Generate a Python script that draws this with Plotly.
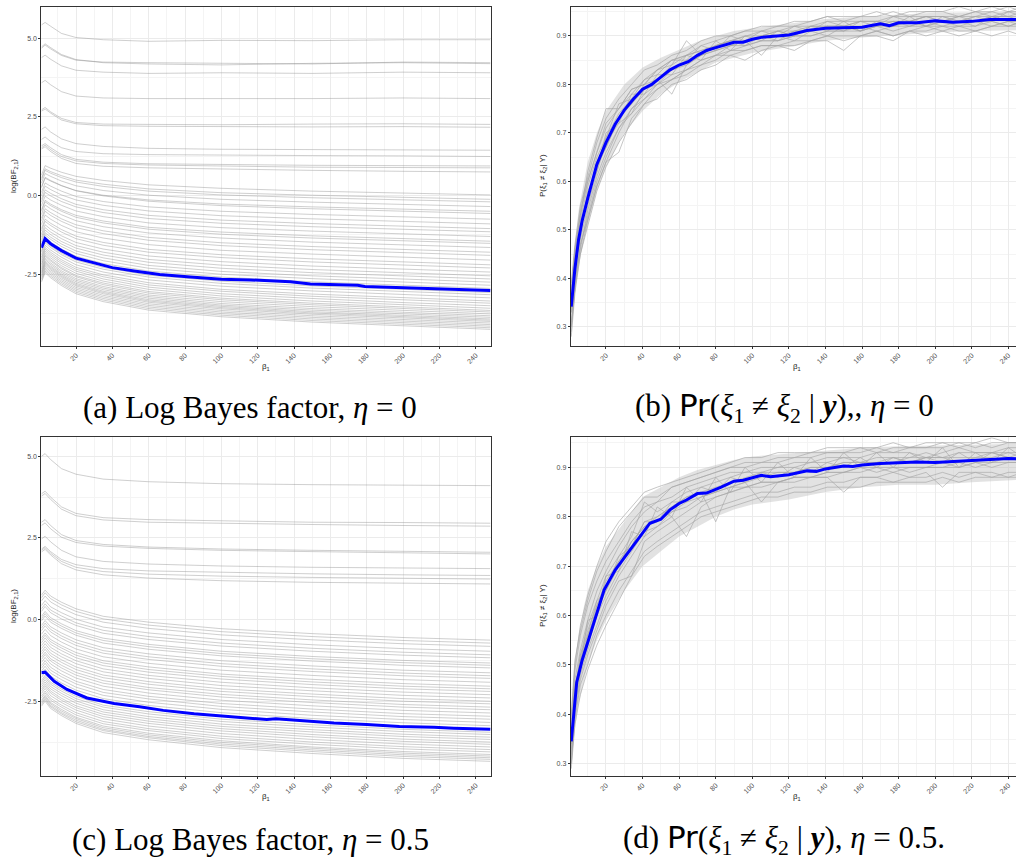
import plotly.graph_objects as go

# ---------------- data ----------------
# Panel (a): log Bayes factor, eta = 0
XA = [1, 3, 6, 12, 20, 35, 60, 100, 150, 200, 248]
A_UPPER = [
    [5.42, 5.50, 5.38, 5.15, 5.02, 4.95, 4.90, 4.93, 4.92, 4.95, 4.95],
    [4.72, 4.82, 4.70, 4.48, 4.32, 4.22, 4.18, 4.15, 4.20, 4.22, 4.19],
    [4.68, 4.78, 4.66, 4.45, 4.30, 4.24, 4.22, 4.20, 4.18, 4.24, 4.22],
    [4.38, 4.46, 4.33, 4.12, 3.98, 3.92, 3.88, 3.90, 3.88, 3.92, 3.90],
    [3.58, 3.66, 3.52, 3.30, 3.16, 3.10, 3.08, 3.07, 3.08, 3.10, 3.08],
    [2.72, 2.80, 2.66, 2.45, 2.32, 2.27, 2.26, 2.25, 2.27, 2.28, 2.26],
    [2.68, 2.75, 2.62, 2.40, 2.28, 2.22, 2.20, 2.19, 2.18, 2.19, 2.17],
    [2.10, 2.18, 2.02, 1.80, 1.65, 1.56, 1.50, 1.47, 1.46, 1.45, 1.44],
    [1.78, 1.86, 1.72, 1.52, 1.40, 1.33, 1.30, 1.28, 1.27, 1.26, 1.24],
    [1.58, 1.65, 1.52, 1.30, 1.15, 1.06, 1.01, 0.98, 0.96, 0.95, 0.94],
    [1.52, 1.60, 1.46, 1.24, 1.10, 1.02, 0.97, 0.93, 0.90, 0.89, 0.88],
    [1.48, 1.55, 1.40, 1.18, 1.02, 0.93, 0.88, 0.84, 0.80, 0.77, 0.75],
]
A_BUNDLE = [
    [0.65, 0.95, 0.87, 0.74, 0.61, 0.48, 0.34, 0.23, 0.14, 0.08, 0.02],
    [0.55, 0.85, 0.76, 0.63, 0.49, 0.36, 0.21, 0.09, 0.01, -0.06, -0.12],
    [0.50, 0.80, 0.71, 0.57, 0.43, 0.29, 0.14, 0.02, -0.07, -0.14, -0.20],
    [0.40, 0.70, 0.61, 0.46, 0.31, 0.16, 0.01, -0.12, -0.21, -0.29, -0.35],
    [0.25, 0.55, 0.46, 0.31, 0.16, 0.01, -0.14, -0.27, -0.36, -0.44, -0.50],
    [0.28, 0.58, 0.48, 0.32, 0.15, -0.01, -0.18, -0.32, -0.42, -0.50, -0.57],
    [0.10, 0.40, 0.30, 0.14, -0.03, -0.19, -0.36, -0.50, -0.60, -0.68, -0.75],
    [0.00, 0.30, 0.19, 0.02, -0.14, -0.31, -0.49, -0.64, -0.74, -0.83, -0.90],
    [-0.12, 0.18, 0.07, -0.10, -0.28, -0.45, -0.63, -0.78, -0.89, -0.98, -1.05],
    [-0.20, 0.10, -0.01, -0.19, -0.36, -0.54, -0.73, -0.88, -0.99, -1.08, -1.15],
    [-0.32, -0.02, -0.14, -0.31, -0.49, -0.67, -0.87, -1.02, -1.13, -1.22, -1.30],
    [-0.45, -0.15, -0.27, -0.45, -0.63, -0.81, -1.01, -1.16, -1.28, -1.37, -1.45],
    [-0.50, -0.20, -0.32, -0.50, -0.69, -0.87, -1.07, -1.23, -1.35, -1.44, -1.52],
    [-0.60, -0.30, -0.42, -0.61, -0.80, -0.99, -1.19, -1.35, -1.48, -1.57, -1.65],
    [-0.72, -0.42, -0.54, -0.74, -0.93, -1.12, -1.33, -1.50, -1.62, -1.72, -1.80],
    [-0.80, -0.50, -0.63, -0.82, -1.02, -1.21, -1.42, -1.59, -1.72, -1.82, -1.90],
    [-0.92, -0.62, -0.75, -0.95, -1.15, -1.35, -1.56, -1.74, -1.86, -1.96, -2.05],
    [-1.05, -0.75, -0.88, -1.08, -1.29, -1.49, -1.71, -1.88, -2.01, -2.11, -2.20],
    [-1.12, -0.82, -0.95, -1.16, -1.37, -1.58, -1.80, -1.97, -2.11, -2.21, -2.30],
    [-1.23, -0.93, -1.07, -1.28, -1.49, -1.70, -1.92, -2.10, -2.24, -2.34, -2.43],
    [-1.32, -1.02, -1.16, -1.37, -1.59, -1.80, -2.03, -2.21, -2.35, -2.46, -2.55],
    [-1.40, -1.10, -1.24, -1.46, -1.67, -1.89, -2.12, -2.31, -2.45, -2.56, -2.65],
    [-1.48, -1.18, -1.32, -1.54, -1.76, -1.98, -2.22, -2.41, -2.55, -2.66, -2.75],
    [-1.55, -1.25, -1.39, -1.62, -1.84, -2.07, -2.31, -2.50, -2.64, -2.75, -2.85],
    [-1.63, -1.33, -1.48, -1.70, -1.93, -2.16, -2.40, -2.59, -2.74, -2.85, -2.95],
    [-1.75, -1.45, -1.60, -1.83, -2.05, -2.28, -2.53, -2.72, -2.87, -2.98, -3.08],
    [-1.80, -1.50, -1.65, -1.88, -2.11, -2.34, -2.59, -2.79, -2.94, -3.05, -3.15],
    [-1.88, -1.58, -1.73, -1.96, -2.20, -2.43, -2.68, -2.88, -3.03, -3.15, -3.25],
    [-1.95, -1.65, -1.80, -2.04, -2.28, -2.52, -2.77, -2.98, -3.13, -3.25, -3.35],
    [-2.00, -1.70, -1.86, -2.10, -2.34, -2.58, -2.84, -3.04, -3.20, -3.32, -3.42],
    [-2.06, -1.76, -1.92, -2.16, -2.40, -2.65, -2.91, -3.12, -3.27, -3.40, -3.50],
    [-2.12, -1.82, -1.98, -2.23, -2.47, -2.72, -2.98, -3.19, -3.35, -3.47, -3.58],
    [-2.18, -1.88, -2.04, -2.29, -2.54, -2.78, -3.05, -3.26, -3.42, -3.54, -3.65],
    [-2.22, -1.92, -2.08, -2.33, -2.58, -2.83, -3.10, -3.31, -3.47, -3.59, -3.70],
    [-2.28, -1.98, -2.14, -2.39, -2.64, -2.89, -3.16, -3.37, -3.53, -3.65, -3.76],
    [-2.33, -2.03, -2.19, -2.44, -2.69, -2.94, -3.21, -3.43, -3.59, -3.71, -3.82],
    [-2.38, -2.08, -2.24, -2.49, -2.74, -2.99, -3.26, -3.48, -3.64, -3.76, -3.87],
    [-2.42, -2.12, -2.28, -2.53, -2.79, -3.04, -3.31, -3.52, -3.69, -3.81, -3.92],
    [-2.46, -2.16, -2.32, -2.57, -2.83, -3.08, -3.35, -3.56, -3.73, -3.85, -3.96],
    [-2.50, -2.20, -2.36, -2.61, -2.87, -3.12, -3.39, -3.60, -3.77, -3.89, -4.00],
    [-2.55, -2.25, -2.41, -2.66, -2.92, -3.17, -3.44, -3.65, -3.82, -3.94, -4.05],
    [-2.60, -2.30, -2.46, -2.71, -2.97, -3.22, -3.49, -3.70, -3.87, -3.99, -4.10],
    [-2.65, -2.35, -2.51, -2.76, -3.02, -3.27, -3.54, -3.75, -3.92, -4.04, -4.15],
    [-2.70, -2.40, -2.56, -2.81, -3.07, -3.32, -3.59, -3.80, -3.97, -4.09, -4.20],
    [-2.75, -2.45, -2.61, -2.86, -3.12, -3.37, -3.64, -3.85, -4.02, -4.14, -4.25],
]
A_BLUE_X = [1, 3, 6, 12, 20, 33, 40, 52, 66, 83, 100, 116, 127, 138, 149, 162, 175, 179, 198, 217, 230, 248]
A_BLUE_Y = [-1.66, -1.37, -1.53, -1.75, -1.99, -2.20, -2.29, -2.40, -2.51, -2.59, -2.66, -2.68,
            -2.70, -2.74, -2.81, -2.83, -2.85, -2.89, -2.92, -2.95, -2.99, -3.02]

# Panel (c): log Bayes factor, eta = 0.5
C_UPPER = [
    [5.00, 5.08, 4.90, 4.62, 4.45, 4.30, 4.22, 4.16, 4.13, 4.12, 4.10],
    [3.85, 3.93, 3.75, 3.45, 3.25, 3.12, 3.06, 3.02, 2.98, 2.97, 2.95],
    [3.78, 3.86, 3.68, 3.38, 3.18, 3.05, 2.98, 2.94, 2.91, 2.88, 2.86],
    [2.98, 3.06, 2.88, 2.60, 2.42, 2.30, 2.22, 2.16, 2.12, 2.08, 2.06],
    [2.88, 2.96, 2.78, 2.52, 2.36, 2.25, 2.18, 2.12, 2.08, 2.04, 2.01],
    [2.47, 2.55, 2.38, 2.12, 1.92, 1.78, 1.70, 1.64, 1.60, 1.58, 1.56],
    [2.16, 2.24, 2.08, 1.84, 1.68, 1.56, 1.49, 1.44, 1.40, 1.37, 1.35],
    [2.12, 2.20, 2.03, 1.78, 1.60, 1.47, 1.39, 1.33, 1.29, 1.26, 1.24],
    [2.07, 2.15, 1.98, 1.71, 1.52, 1.37, 1.27, 1.19, 1.14, 1.11, 1.09],
]
C_BUNDLE = [
    [0.75, 0.90, 0.72, 0.53, 0.33, 0.10, -0.08, -0.28, -0.43, -0.55, -0.63],
    [0.67, 0.82, 0.64, 0.45, 0.25, 0.02, -0.17, -0.37, -0.52, -0.64, -0.72],
    [0.57, 0.72, 0.54, 0.35, 0.15, -0.08, -0.27, -0.47, -0.62, -0.74, -0.82],
    [0.43, 0.58, 0.39, 0.21, 0.01, -0.23, -0.41, -0.61, -0.77, -0.89, -0.97],
    [0.33, 0.48, 0.29, 0.11, -0.10, -0.33, -0.52, -0.72, -0.88, -1.00, -1.08],
    [0.25, 0.40, 0.21, 0.02, -0.18, -0.42, -0.61, -0.81, -0.97, -1.09, -1.17],
    [0.10, 0.25, 0.06, -0.13, -0.34, -0.57, -0.76, -0.97, -1.13, -1.25, -1.33],
    [0.03, 0.18, -0.01, -0.20, -0.41, -0.64, -0.83, -1.04, -1.20, -1.32, -1.40],
    [-0.04, 0.11, -0.08, -0.27, -0.48, -0.72, -0.91, -1.11, -1.27, -1.40, -1.48],
    [-0.18, -0.03, -0.22, -0.41, -0.62, -0.86, -1.05, -1.26, -1.42, -1.55, -1.63],
    [-0.26, -0.11, -0.30, -0.50, -0.71, -0.95, -1.14, -1.35, -1.51, -1.64, -1.72],
    [-0.34, -0.19, -0.38, -0.58, -0.79, -1.03, -1.22, -1.43, -1.59, -1.72, -1.80],
    [-0.45, -0.30, -0.49, -0.69, -0.90, -1.14, -1.34, -1.55, -1.71, -1.84, -1.92],
    [-0.56, -0.41, -0.61, -0.80, -1.01, -1.26, -1.45, -1.67, -1.83, -1.96, -2.04],
    [-0.63, -0.48, -0.68, -0.87, -1.09, -1.33, -1.53, -1.74, -1.91, -2.04, -2.12],
    [-0.71, -0.56, -0.76, -0.95, -1.17, -1.41, -1.61, -1.82, -1.99, -2.12, -2.20],
    [-0.80, -0.65, -0.85, -1.05, -1.26, -1.51, -1.71, -1.92, -2.09, -2.22, -2.30],
    [-0.89, -0.74, -0.94, -1.14, -1.35, -1.60, -1.80, -2.02, -2.18, -2.32, -2.40],
    [-0.98, -0.83, -1.03, -1.23, -1.45, -1.70, -1.90, -2.12, -2.28, -2.42, -2.50],
    [-1.06, -0.91, -1.11, -1.31, -1.53, -1.78, -1.98, -2.20, -2.36, -2.50, -2.58],
    [-1.15, -1.00, -1.20, -1.40, -1.62, -1.87, -2.08, -2.29, -2.46, -2.60, -2.68],
    [-1.22, -1.07, -1.27, -1.48, -1.70, -1.95, -2.15, -2.37, -2.54, -2.68, -2.76],
    [-1.31, -1.16, -1.36, -1.57, -1.79, -2.04, -2.25, -2.47, -2.64, -2.78, -2.86],
    [-1.41, -1.26, -1.46, -1.67, -1.89, -2.14, -2.35, -2.57, -2.74, -2.88, -2.96],
    [-1.49, -1.34, -1.55, -1.75, -1.97, -2.23, -2.43, -2.66, -2.83, -2.97, -3.05],
    [-1.58, -1.43, -1.64, -1.84, -2.07, -2.32, -2.53, -2.75, -2.93, -3.06, -3.15],
    [-1.67, -1.52, -1.73, -1.94, -2.16, -2.42, -2.63, -2.85, -3.03, -3.16, -3.25],
    [-1.77, -1.62, -1.83, -2.04, -2.26, -2.52, -2.73, -2.95, -3.13, -3.26, -3.35],
    [-1.86, -1.71, -1.92, -2.13, -2.35, -2.62, -2.82, -3.05, -3.22, -3.36, -3.45],
    [-1.92, -1.77, -1.98, -2.19, -2.42, -2.68, -2.89, -3.12, -3.29, -3.43, -3.52],
    [-1.99, -1.84, -2.05, -2.26, -2.49, -2.76, -2.97, -3.20, -3.37, -3.51, -3.60],
    [-2.06, -1.91, -2.12, -2.33, -2.56, -2.83, -3.04, -3.27, -3.44, -3.58, -3.67],
    [-2.13, -1.98, -2.19, -2.41, -2.64, -2.90, -3.11, -3.34, -3.52, -3.66, -3.75],
    [-2.19, -2.04, -2.25, -2.47, -2.70, -2.97, -3.18, -3.41, -3.59, -3.73, -3.82],
    [-2.26, -2.11, -2.33, -2.54, -2.77, -3.04, -3.26, -3.49, -3.67, -3.81, -3.90],
    [-2.34, -2.19, -2.41, -2.62, -2.85, -3.12, -3.34, -3.57, -3.75, -3.89, -3.98],
    [-2.40, -2.25, -2.47, -2.68, -2.92, -3.19, -3.40, -3.64, -3.82, -3.96, -4.05],
    [-2.47, -2.32, -2.54, -2.75, -2.99, -3.26, -3.48, -3.71, -3.90, -4.04, -4.13],
    [-2.51, -2.36, -2.58, -2.80, -3.03, -3.31, -3.53, -3.76, -3.94, -4.09, -4.18],
    [-2.56, -2.41, -2.63, -2.85, -3.08, -3.36, -3.58, -3.81, -3.99, -4.14, -4.23],
    [-2.60, -2.45, -2.67, -2.89, -3.13, -3.40, -3.62, -3.86, -4.04, -4.19, -4.28],
    [-2.65, -2.50, -2.72, -2.94, -3.18, -3.46, -3.68, -3.92, -4.10, -4.25, -4.34],
]
C_BLUE_X = [1, 3, 8, 15, 26, 41, 55, 68, 85, 99, 118, 125, 130, 143, 162, 180, 198, 217, 228, 248]
C_BLUE_Y = [-1.63, -1.61, -1.89, -2.14, -2.40, -2.57, -2.67, -2.78, -2.88, -2.94, -3.02, -3.06,
            -3.04, -3.09, -3.17, -3.21, -3.27, -3.30, -3.33, -3.36]

# Panels (b) and (d): posterior probability
XP = [1, 3, 6, 10, 15, 20, 27, 34, 41, 48, 56, 64, 72, 80, 88, 96, 105, 114, 123, 132, 141,
      150, 159, 168, 177, 186, 195, 204, 213, 222, 231, 240, 248]
XE = [1, 3, 5, 8, 10, 15, 20, 30, 40, 50, 60, 70, 80, 90, 100, 120, 140, 160, 180, 200, 220, 248]

B_LO = [0.30, 0.37, 0.43, 0.48, 0.51, 0.58, 0.63, 0.70, 0.745, 0.78, 0.805, 0.825, 0.845, 0.855,
        0.865, 0.877, 0.89, 0.897, 0.902, 0.907, 0.91, 0.912]
B_HI = [0.38, 0.47, 0.54, 0.60, 0.64, 0.70, 0.745, 0.80, 0.835, 0.855, 0.872, 0.888, 0.90,
        0.91, 0.916, 0.926, 0.935, 0.94, 0.944, 0.948, 0.949, 0.952]
B_LINES = [
    [0.36, 0.45, 0.53, 0.60, 0.66, 0.71, 0.75, 0.79, 0.80, 0.83, 0.85, 0.86, 0.88, 0.89, 0.90, 0.91, 0.91, 0.92, 0.92, 0.93, 0.94, 0.93, 0.94, 0.94, 0.95, 0.94, 0.95, 0.95, 0.94, 0.95, 0.95, 0.96, 0.95],
    [0.31, 0.39, 0.47, 0.53, 0.60, 0.65, 0.71, 0.74, 0.77, 0.79, 0.81, 0.82, 0.84, 0.86, 0.86, 0.87, 0.88, 0.88, 0.89, 0.89, 0.90, 0.90, 0.90, 0.91, 0.90, 0.91, 0.91, 0.92, 0.91, 0.91, 0.92, 0.92, 0.92],
    [0.34, 0.44, 0.49, 0.58, 0.62, 0.70, 0.72, 0.78, 0.78, 0.82, 0.82, 0.86, 0.85, 0.89, 0.87, 0.90, 0.89, 0.91, 0.90, 0.92, 0.91, 0.93, 0.91, 0.93, 0.92, 0.94, 0.92, 0.94, 0.93, 0.94, 0.93, 0.95, 0.94],
    [0.28, 0.37, 0.45, 0.51, 0.58, 0.63, 0.68, 0.72, 0.76, 0.77, 0.80, 0.81, 0.83, 0.84, 0.86, 0.85, 0.87, 0.88, 0.87, 0.89, 0.90, 0.89, 0.90, 0.91, 0.90, 0.91, 0.92, 0.91, 0.92, 0.91, 0.92, 0.93, 0.92],
    [0.39, 0.47, 0.55, 0.61, 0.68, 0.73, 0.77, 0.80, 0.83, 0.84, 0.86, 0.87, 0.89, 0.90, 0.90, 0.91, 0.92, 0.92, 0.93, 0.93, 0.94, 0.94, 0.94, 0.95, 0.94, 0.95, 0.95, 0.95, 0.96, 0.95, 0.96, 0.95, 0.96],
    [0.33, 0.41, 0.50, 0.56, 0.64, 0.67, 0.73, 0.76, 0.80, 0.81, 0.78, 0.84, 0.86, 0.88, 0.89, 0.88, 0.90, 0.89, 0.91, 0.91, 0.92, 0.92, 0.91, 0.92, 0.93, 0.93, 0.92, 0.93, 0.93, 0.92, 0.94, 0.93, 0.93],
    [0.35, 0.42, 0.51, 0.57, 0.63, 0.69, 0.74, 0.77, 0.79, 0.81, 0.84, 0.89, 0.86, 0.88, 0.89, 0.89, 0.90, 0.91, 0.90, 0.92, 0.92, 0.91, 0.93, 0.93, 0.92, 0.93, 0.94, 0.93, 0.94, 0.93, 0.94, 0.94, 0.93],
    [0.30, 0.40, 0.46, 0.54, 0.61, 0.66, 0.71, 0.75, 0.78, 0.80, 0.83, 0.84, 0.86, 0.87, 0.88, 0.89, 0.86, 0.90, 0.89, 0.91, 0.90, 0.92, 0.91, 0.92, 0.92, 0.92, 0.93, 0.92, 0.93, 0.93, 0.92, 0.93, 0.93],
    [0.38, 0.46, 0.54, 0.60, 0.66, 0.72, 0.75, 0.78, 0.81, 0.83, 0.85, 0.86, 0.87, 0.88, 0.89, 0.90, 0.91, 0.91, 0.92, 0.92, 0.93, 0.93, 0.93, 0.93, 0.94, 0.94, 0.94, 0.94, 0.94, 0.95, 0.94, 0.95, 0.95],
    [0.33, 0.43, 0.48, 0.55, 0.62, 0.68, 0.72, 0.74, 0.79, 0.80, 0.82, 0.83, 0.85, 0.86, 0.88, 0.88, 0.89, 0.89, 0.90, 0.90, 0.91, 0.91, 0.92, 0.91, 0.92, 0.93, 0.92, 0.93, 0.92, 0.93, 0.93, 0.92, 0.93],
    [0.29, 0.38, 0.47, 0.52, 0.59, 0.64, 0.70, 0.75, 0.77, 0.80, 0.81, 0.83, 0.84, 0.85, 0.87, 0.87, 0.88, 0.88, 0.88, 0.89, 0.89, 0.87, 0.90, 0.90, 0.89, 0.91, 0.90, 0.91, 0.90, 0.91, 0.90, 0.91, 0.90],
    [0.35, 0.44, 0.52, 0.59, 0.65, 0.69, 0.76, 0.77, 0.81, 0.82, 0.85, 0.85, 0.88, 0.87, 0.90, 0.89, 0.91, 0.90, 0.92, 0.91, 0.93, 0.92, 0.93, 0.92, 0.94, 0.93, 0.94, 0.93, 0.94, 0.94, 0.95, 0.94, 0.95],
    [0.34, 0.41, 0.49, 0.57, 0.63, 0.67, 0.73, 0.76, 0.79, 0.81, 0.83, 0.85, 0.86, 0.87, 0.88, 0.89, 0.90, 0.90, 0.91, 0.91, 0.92, 0.92, 0.92, 0.92, 0.93, 0.92, 0.93, 0.93, 0.93, 0.93, 0.94, 0.93, 0.94],
    [0.37, 0.46, 0.53, 0.62, 0.69, 0.75, 0.75, 0.79, 0.80, 0.83, 0.84, 0.86, 0.87, 0.88, 0.89, 0.90, 0.90, 0.91, 0.91, 0.92, 0.92, 0.92, 0.93, 0.93, 0.93, 0.93, 0.94, 0.94, 0.93, 0.94, 0.94, 0.94, 0.94],
    [0.30, 0.38, 0.45, 0.52, 0.59, 0.64, 0.66, 0.73, 0.76, 0.79, 0.81, 0.83, 0.85, 0.86, 0.87, 0.88, 0.89, 0.89, 0.90, 0.90, 0.91, 0.91, 0.91, 0.92, 0.91, 0.92, 0.92, 0.92, 0.92, 0.92, 0.93, 0.92, 0.93],
]
B_BLUE_X = [1, 3, 5, 7, 10, 13, 15, 20, 25, 30, 35, 40, 45, 50, 55, 60, 65, 70, 75, 80, 85, 90,
            95, 100, 105, 110, 120, 130, 140, 150, 160, 170, 175, 180, 190, 200, 210, 220, 230, 248]
B_BLUE_Y = [0.342, 0.42, 0.48, 0.52, 0.565, 0.61, 0.635, 0.68, 0.718, 0.747, 0.77, 0.79, 0.80,
            0.815, 0.83, 0.84, 0.847, 0.86, 0.87, 0.876, 0.882, 0.887, 0.887, 0.893, 0.897, 0.899,
            0.902, 0.911, 0.916, 0.917, 0.918, 0.925, 0.921, 0.927, 0.927, 0.931, 0.928, 0.930,
            0.934, 0.934]

D_LO = [0.30, 0.37, 0.42, 0.47, 0.50, 0.55, 0.59, 0.65, 0.70, 0.73, 0.76, 0.78, 0.80, 0.815,
        0.825, 0.835, 0.85, 0.86, 0.865, 0.865, 0.87, 0.875]
D_HI = [0.39, 0.50, 0.56, 0.62, 0.65, 0.70, 0.74, 0.79, 0.84, 0.86, 0.88, 0.895, 0.905, 0.915,
        0.922, 0.928, 0.935, 0.94, 0.943, 0.945, 0.946, 0.948]
D_LINES = [
    [0.38, 0.49, 0.56, 0.62, 0.67, 0.71, 0.75, 0.79, 0.82, 0.83, 0.86, 0.87, 0.88, 0.89, 0.90, 0.90, 0.91, 0.91, 0.92, 0.92, 0.93, 0.93, 0.93, 0.94, 0.93, 0.94, 0.94, 0.94, 0.95, 0.94, 0.95, 0.95, 0.95],
    [0.30, 0.39, 0.46, 0.50, 0.56, 0.60, 0.65, 0.69, 0.73, 0.75, 0.77, 0.79, 0.81, 0.82, 0.83, 0.84, 0.85, 0.85, 0.86, 0.86, 0.87, 0.87, 0.88, 0.88, 0.87, 0.88, 0.88, 0.89, 0.88, 0.89, 0.89, 0.88, 0.89],
    [0.35, 0.46, 0.50, 0.59, 0.60, 0.68, 0.69, 0.77, 0.76, 0.82, 0.80, 0.86, 0.83, 0.88, 0.85, 0.90, 0.87, 0.91, 0.88, 0.92, 0.89, 0.93, 0.90, 0.93, 0.90, 0.93, 0.91, 0.94, 0.90, 0.93, 0.91, 0.94, 0.92],
    [0.31, 0.41, 0.48, 0.53, 0.58, 0.63, 0.68, 0.72, 0.76, 0.78, 0.80, 0.76, 0.82, 0.84, 0.85, 0.86, 0.87, 0.87, 0.88, 0.88, 0.89, 0.89, 0.90, 0.89, 0.90, 0.90, 0.90, 0.91, 0.90, 0.91, 0.91, 0.92, 0.91],
    [0.40, 0.51, 0.57, 0.63, 0.69, 0.73, 0.78, 0.81, 0.84, 0.84, 0.86, 0.87, 0.88, 0.89, 0.90, 0.91, 0.91, 0.92, 0.92, 0.93, 0.93, 0.93, 0.94, 0.93, 0.94, 0.94, 0.94, 0.95, 0.94, 0.95, 0.94, 0.95, 0.95],
    [0.34, 0.43, 0.51, 0.55, 0.62, 0.66, 0.71, 0.74, 0.79, 0.80, 0.82, 0.84, 0.85, 0.79, 0.86, 0.87, 0.88, 0.89, 0.89, 0.90, 0.90, 0.91, 0.91, 0.91, 0.92, 0.91, 0.92, 0.92, 0.91, 0.92, 0.92, 0.93, 0.92],
    [0.33, 0.42, 0.49, 0.54, 0.60, 0.64, 0.69, 0.73, 0.77, 0.78, 0.81, 0.82, 0.84, 0.85, 0.86, 0.87, 0.83, 0.87, 0.88, 0.88, 0.89, 0.89, 0.90, 0.90, 0.89, 0.90, 0.90, 0.90, 0.91, 0.90, 0.91, 0.91, 0.91],
    [0.36, 0.47, 0.53, 0.59, 0.65, 0.69, 0.74, 0.78, 0.81, 0.83, 0.84, 0.86, 0.87, 0.88, 0.89, 0.89, 0.90, 0.90, 0.91, 0.91, 0.92, 0.92, 0.92, 0.93, 0.93, 0.93, 0.92, 0.93, 0.94, 0.93, 0.93, 0.94, 0.94],
    [0.32, 0.44, 0.50, 0.56, 0.61, 0.65, 0.70, 0.75, 0.78, 0.79, 0.81, 0.83, 0.84, 0.85, 0.86, 0.86, 0.87, 0.87, 0.87, 0.88, 0.88, 0.85, 0.88, 0.88, 0.89, 0.88, 0.89, 0.86, 0.89, 0.89, 0.88, 0.89, 0.89],
    [0.35, 0.45, 0.52, 0.58, 0.63, 0.68, 0.72, 0.76, 0.83, 0.81, 0.83, 0.85, 0.86, 0.87, 0.88, 0.89, 0.89, 0.90, 0.90, 0.91, 0.91, 0.92, 0.91, 0.92, 0.92, 0.92, 0.93, 0.92, 0.93, 0.93, 0.93, 0.93, 0.93],
    [0.30, 0.40, 0.47, 0.52, 0.57, 0.62, 0.67, 0.68, 0.75, 0.77, 0.79, 0.81, 0.83, 0.84, 0.85, 0.86, 0.86, 0.87, 0.88, 0.88, 0.88, 0.89, 0.89, 0.90, 0.90, 0.89, 0.90, 0.90, 0.90, 0.91, 0.90, 0.91, 0.91],
    [0.34, 0.44, 0.52, 0.56, 0.63, 0.65, 0.72, 0.74, 0.79, 0.79, 0.83, 0.83, 0.86, 0.85, 0.88, 0.87, 0.89, 0.88, 0.90, 0.89, 0.91, 0.90, 0.92, 0.90, 0.92, 0.91, 0.92, 0.91, 0.93, 0.91, 0.93, 0.92, 0.93],
    [0.39, 0.50, 0.58, 0.64, 0.70, 0.75, 0.79, 0.82, 0.85, 0.86, 0.87, 0.88, 0.89, 0.90, 0.91, 0.92, 0.92, 0.93, 0.93, 0.93, 0.94, 0.94, 0.94, 0.94, 0.95, 0.94, 0.95, 0.95, 0.95, 0.95, 0.96, 0.95, 0.95],
    [0.29, 0.38, 0.44, 0.49, 0.54, 0.58, 0.63, 0.68, 0.72, 0.74, 0.76, 0.78, 0.80, 0.81, 0.82, 0.83, 0.84, 0.84, 0.85, 0.85, 0.86, 0.86, 0.86, 0.87, 0.87, 0.87, 0.87, 0.88, 0.87, 0.88, 0.88, 0.88, 0.88],
    [0.34, 0.45, 0.51, 0.57, 0.62, 0.67, 0.71, 0.75, 0.78, 0.80, 0.82, 0.84, 0.85, 0.86, 0.87, 0.88, 0.89, 0.89, 0.89, 0.90, 0.90, 0.91, 0.91, 0.91, 0.91, 0.92, 0.92, 0.92, 0.92, 0.92, 0.93, 0.92, 0.92],
]
D_BLUE_X = [1, 4, 7, 12, 19, 25, 33, 44, 50, 55, 60, 64, 70, 75, 83, 90, 95, 105, 110, 120, 130,
            135, 140, 150, 155, 160, 170, 180, 190, 200, 210, 220, 230, 240, 248]
D_BLUE_Y = [0.345, 0.465, 0.51, 0.571, 0.652, 0.692, 0.733, 0.787, 0.795, 0.814, 0.827, 0.834,
            0.847, 0.848, 0.86, 0.872, 0.874, 0.884, 0.881, 0.885, 0.893, 0.892, 0.897, 0.903,
            0.902, 0.905, 0.908, 0.909, 0.911, 0.910, 0.912, 0.913, 0.915, 0.918, 0.917]

BF_TICKS = [-2.5, 0.0, 2.5, 5.0]
BF_TICKTEXT = ["-2.5", "0.0", "2.5", "5.0"]
P_TICKS = [0.3, 0.4, 0.5, 0.6, 0.7, 0.8, 0.9]
P_TICKTEXT = ["0.3", "0.4", "0.5", "0.6", "0.7", "0.8", "0.9"]
X_TICKS = [20, 40, 60, 80, 100, 120, 140, 160, 180, 200, 220, 240]

CAPTIONS = [
    "(a) Log Bayes factor, <i>η</i> = 0",
    "(b) <span style=\"font-family:'DejaVu Sans'\">Pr</span>(<i>ξ</i><sub>1</sub> ≠ <i>ξ</i><sub>2</sub> | <b><i>y</i></b>),, <i>η</i> = 0",
    "(c) Log Bayes factor, <i>η</i> = 0.5",
    "(d) <span style=\"font-family:'DejaVu Sans'\">Pr</span>(<i>ξ</i><sub>1</sub> ≠ <i>ξ</i><sub>2</sub> | <b><i>y</i></b>), <i>η</i> = 0.5.",
]

# ---------------- figure ----------------
W, H = 1016, 859
GRAY = "rgba(140,140,140,0.42)"
GRAY_P = "rgba(165,165,165,0.8)"
FILL_P = "rgba(190,190,190,0.45)"
BLUE = "#0000FF"

fig = go.Figure()


def add(x, y, xa, ya, **kw):
    n = min(len(x), len(y))
    fig.add_trace(go.Scatter(x=x[:n], y=y[:n], mode="lines", xaxis=xa, yaxis=ya,
                             hoverinfo="skip", showlegend=False, **kw))


# (a)
for row in A_UPPER + A_BUNDLE:
    add(XA, row, "x", "y", line=dict(color=GRAY, width=1))
add(A_BLUE_X, A_BLUE_Y, "x", "y", line=dict(color=BLUE, width=3))

# (b)
add(XE, B_LO, "x2", "y2", line=dict(color="rgba(0,0,0,0)", width=0))
add(XE, B_HI, "x2", "y2", line=dict(color="rgba(0,0,0,0)", width=0), fill="tonexty", fillcolor=FILL_P)
for row in B_LINES:
    add(XP, row, "x2", "y2", line=dict(color=GRAY_P, width=0.8))
add(B_BLUE_X, B_BLUE_Y, "x2", "y2", line=dict(color=BLUE, width=3))

# (c)
for row in C_UPPER + C_BUNDLE:
    add(XA, row, "x3", "y3", line=dict(color=GRAY, width=1))
add(C_BLUE_X, C_BLUE_Y, "x3", "y3", line=dict(color=BLUE, width=3))

# (d)
add(XE, D_LO, "x4", "y4", line=dict(color="rgba(0,0,0,0)", width=0))
add(XE, D_HI, "x4", "y4", line=dict(color="rgba(0,0,0,0)", width=0), fill="tonexty", fillcolor=FILL_P)
for row in D_LINES:
    add(XP, row, "x4", "y4", line=dict(color=GRAY_P, width=0.8))
add(D_BLUE_X, D_BLUE_Y, "x4", "y4", line=dict(color=BLUE, width=3))

TICKFONT = dict(family="Liberation Sans", size=7, color="#4D4D4D")
MAJ = "#EBEBEB"
MIN = "#F4F4F4"


def px_x(p):
    return p / W


def px_y(p):
    return 1 - p / H


def xaxis(dom, rng, anchor, mirror=True):
    return dict(domain=dom, range=rng, anchor=anchor, tickmode="array", tickvals=X_TICKS,
                ticktext=[str(v) for v in X_TICKS], tickangle=-45, tickfont=TICKFONT,
                showgrid=True, gridcolor=MAJ, gridwidth=1.2,
                minor=dict(tickmode="linear", tick0=10, dtick=20, showgrid=True,
                           gridcolor=MIN, gridwidth=0.8, ticks=""),
                showline=True, linecolor="#333333", linewidth=1, mirror=mirror,
                ticks="outside", ticklen=2, tickcolor="#333333", zeroline=False)


def yaxis(dom, rng, anchor, vals, text, minor_tick0, minor_dtick, mirror=True):
    return dict(domain=dom, range=rng, anchor=anchor, tickmode="array", tickvals=vals,
                ticktext=text, tickfont=TICKFONT, showgrid=True, gridcolor=MAJ, gridwidth=1.2,
                minor=dict(tickmode="linear", tick0=minor_tick0, dtick=minor_dtick,
                           showgrid=True, gridcolor=MIN, gridwidth=0.8, ticks=""),
                showline=True, linecolor="#333333", linewidth=1, mirror=mirror,
                ticks="outside", ticklen=2, tickcolor="#333333", zeroline=False)


left_dom = [px_x(41.3), px_x(491)]
right_dom = [px_x(570.7), 1.0]
top_dom = [px_y(345.7), px_y(7.3)]
bot_dom = [px_y(775.7), px_y(437.3)]

fig.update_layout(
    width=W, height=H, margin=dict(l=0, r=0, t=0, b=0),
    paper_bgcolor="white", plot_bgcolor="white", showlegend=False, hovermode=False,
    xaxis=xaxis(left_dom, [0.9, 248.4], "y"),
    yaxis=yaxis(top_dom, [-4.77, 5.98], "x", BF_TICKS, BF_TICKTEXT, 1.25, 2.5),
    xaxis2=xaxis(right_dom, [0.7, 244.2], "y2"),
    yaxis2=yaxis(top_dom, [0.2614, 0.959], "x2", P_TICKS, P_TICKTEXT, 0.35, 0.1, mirror=False),
    xaxis3=xaxis(left_dom, [0.9, 248.4], "y3"),
    yaxis3=yaxis(bot_dom, [-4.78, 5.58], "x3", BF_TICKS, BF_TICKTEXT, 1.25, 2.5),
    xaxis4=xaxis(right_dom, [0.7, 244.2], "y4"),
    yaxis4=yaxis(bot_dom, [0.2757, 0.961], "x4", P_TICKS, P_TICKTEXT, 0.35, 0.1, mirror=False),
)

ann = []
TITLEFONT = dict(family="Liberation Sans", size=8, color="#1A1A1A")
for (ytitle_y, xtitle_y) in [(176, 367), (606, 797)]:
    ann.append(dict(text="log(BF<sub>2,1</sub>)", x=px_x(14), y=px_y(ytitle_y), textangle=-90,
                    font=TITLEFONT))
    ann.append(dict(text="β<sub>1</sub>", x=px_x(266), y=px_y(xtitle_y), font=TITLEFONT))
    ann.append(dict(text="P(ξ<sub>1</sub> ≠ ξ<sub>2</sub>| Y)", x=px_x(543), y=px_y(ytitle_y),
                    textangle=-90, font=TITLEFONT))
    ann.append(dict(text="β<sub>1</sub>", x=px_x(797), y=px_y(xtitle_y), font=TITLEFONT))

CAPFONT = dict(family="Liberation Serif", size=31, color="black")
for text, cx, cy in zip(CAPTIONS, [250, 784, 250, 784], [407, 407, 839, 839]):
    ann.append(dict(text=text, x=px_x(cx), y=px_y(cy), font=CAPFONT, borderpad=4))

for a in ann:
    a.update(xref="paper", yref="paper", showarrow=False, xanchor="center", yanchor="middle")
fig.update_layout(annotations=ann)

fig.write_html("out.html")
